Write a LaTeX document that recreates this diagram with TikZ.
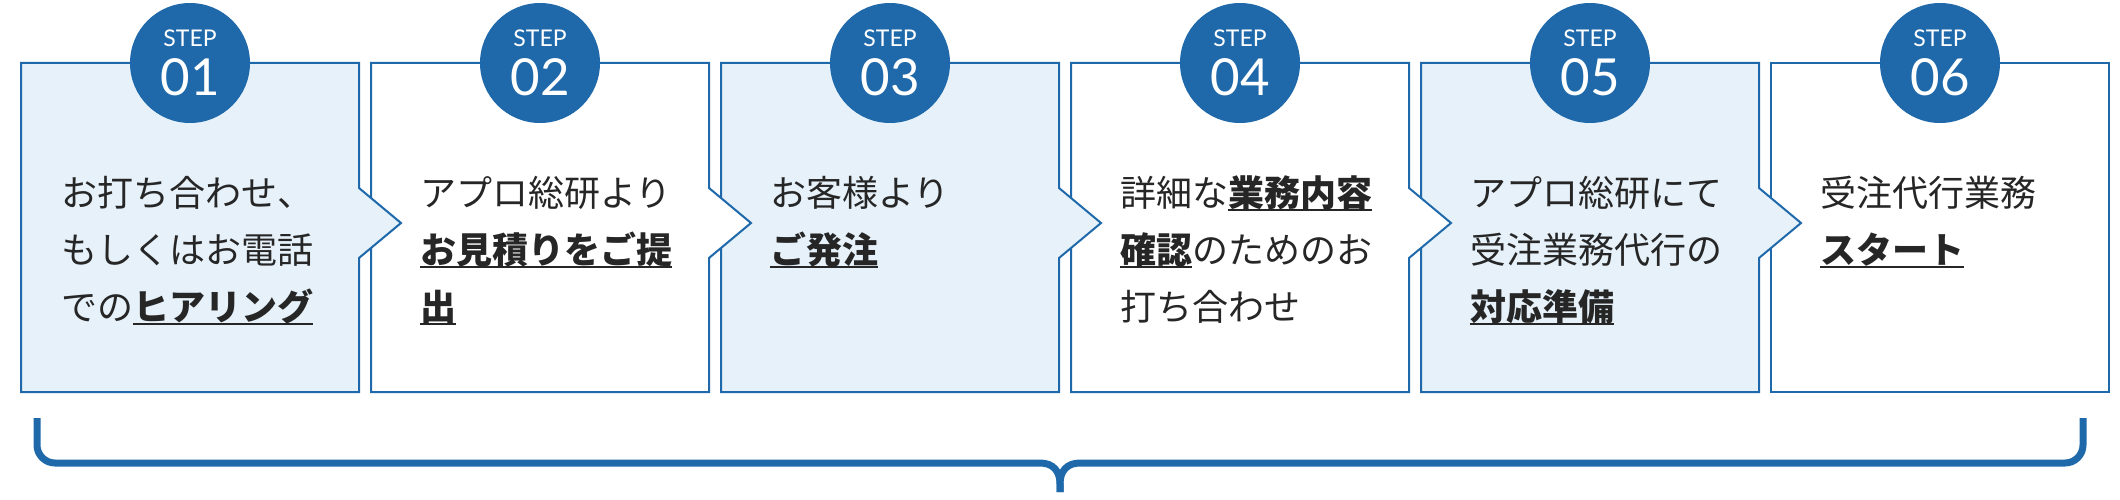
\documentclass[tikz,border=0pt]{standalone}
\usepackage{fontspec}
\setmainfont{Noto Sans CJK JP}
\newfontfamily\latofont{Lato}
\definecolor{stepblue}{RGB}{31,105,170}
\definecolor{steplight}{RGB}{230,241,249}
\definecolor{steptext}{RGB}{38,38,38}
\newcommand\ulb[1]{\setbox0=\hbox{\bfseries #1}\rlap{\rule[-5pt]{\wd0}{1.8pt}}\box0}
\newcommand\steplines[1]{\vtop{#1}}
\tikzset{
  stepbox/.style={draw=stepblue, line width=2pt, line join=miter},
  steptxt/.style={anchor=base west, inner sep=0pt, text=steptext, font=\fontsize{36}{57}\selectfont},
  stepcirc/.style={circle, fill=stepblue, minimum size=120pt, inner sep=0pt},
  steplabel/.style={text=white, inner sep=0pt, font=\latofont\fontsize{23}{23}\selectfont},
  stepnum/.style={text=white, inner sep=0pt, font=\latofont\fontsize{51}{51}\selectfont},
  bracket/.style={draw=stepblue, line width=7pt}
}
\begin{document}
\begin{tikzpicture}[x=1pt, y=-1pt]
\useasboundingbox (0,0) rectangle (2120,500);
% boxes, drawn right to left so each arrow lies over the next box
\draw[stepbox, fill=white] (1771,63) -- (2109,63) -- (2109,392) -- (1771,392) -- cycle;
\draw[stepbox, fill=steplight] (1421,63) -- (1759,63) -- (1759,188) -- (1801,223) -- (1759,258) -- (1759,392) -- (1421,392) -- cycle;
\draw[stepbox, fill=white] (1071,63) -- (1409,63) -- (1409,188) -- (1451,223) -- (1409,258) -- (1409,392) -- (1071,392) -- cycle;
\draw[stepbox, fill=steplight] (721,63) -- (1059,63) -- (1059,188) -- (1101,223) -- (1059,258) -- (1059,392) -- (721,392) -- cycle;
\draw[stepbox, fill=white] (371,63) -- (709,63) -- (709,188) -- (751,223) -- (709,258) -- (709,392) -- (371,392) -- cycle;
\draw[stepbox, fill=steplight] (21,63) -- (359,63) -- (359,188) -- (401,223) -- (359,258) -- (359,392) -- (21,392) -- cycle;
% circles
\foreach \i/\cx in {1/190,2/540,3/890,4/1240,5/1590,6/1940}{
  \node[stepcirc] (c\i) at (\cx,63) {};
  \node[steplabel] (s\i) at (\cx,38) {STEP};
  \node[stepnum] (n\i) at (\cx,77) {0\i};
}
% texts
\node[steptxt] (t1) at (61,206) {\steplines{\hbox{お打ち合わせ、}\hbox{もしくはお電話}\hbox{での\ulb{ヒアリング}}}};
\node[steptxt] (t2) at (420,206) {\steplines{\hbox{アプロ総研より}\hbox{\ulb{お見積りをご提}}\hbox{\ulb{出}}}};
\node[steptxt] (t3) at (770,206) {\steplines{\hbox{お客様より}\hbox{\ulb{ご発注}}}};
\node[steptxt] (t4) at (1120,206) {\steplines{\hbox{詳細な\ulb{業務内容}}\hbox{\ulb{確認}のためのお}\hbox{打ち合わせ}}};
\node[steptxt] (t5) at (1470,206) {\steplines{\hbox{アプロ総研にて}\hbox{受注業務代行の}\hbox{\ulb{対応準備}}}};
\node[steptxt] (t6) at (1820,206) {\steplines{\hbox{受注代行業務}\hbox{\ulb{スタート}}}};
% bracket
\coordinate (bl) at (37,418);
\coordinate (br) at (2083,418);
\coordinate (bm) at (1060,492);
\draw[bracket] (bl) -- (37,445) arc[start angle=180, end angle=270, radius=18pt] -- (1040,463)
  .. controls (1053,463) and (1060,471) .. (1060,484) -- (bm);
\draw[bracket] (br) -- (2083,445) arc[start angle=0, end angle=-90, radius=18pt] -- (1080,463)
  .. controls (1067,463) and (1060,471) .. (1060,484) -- (bm);
\end{tikzpicture}
\end{document}
